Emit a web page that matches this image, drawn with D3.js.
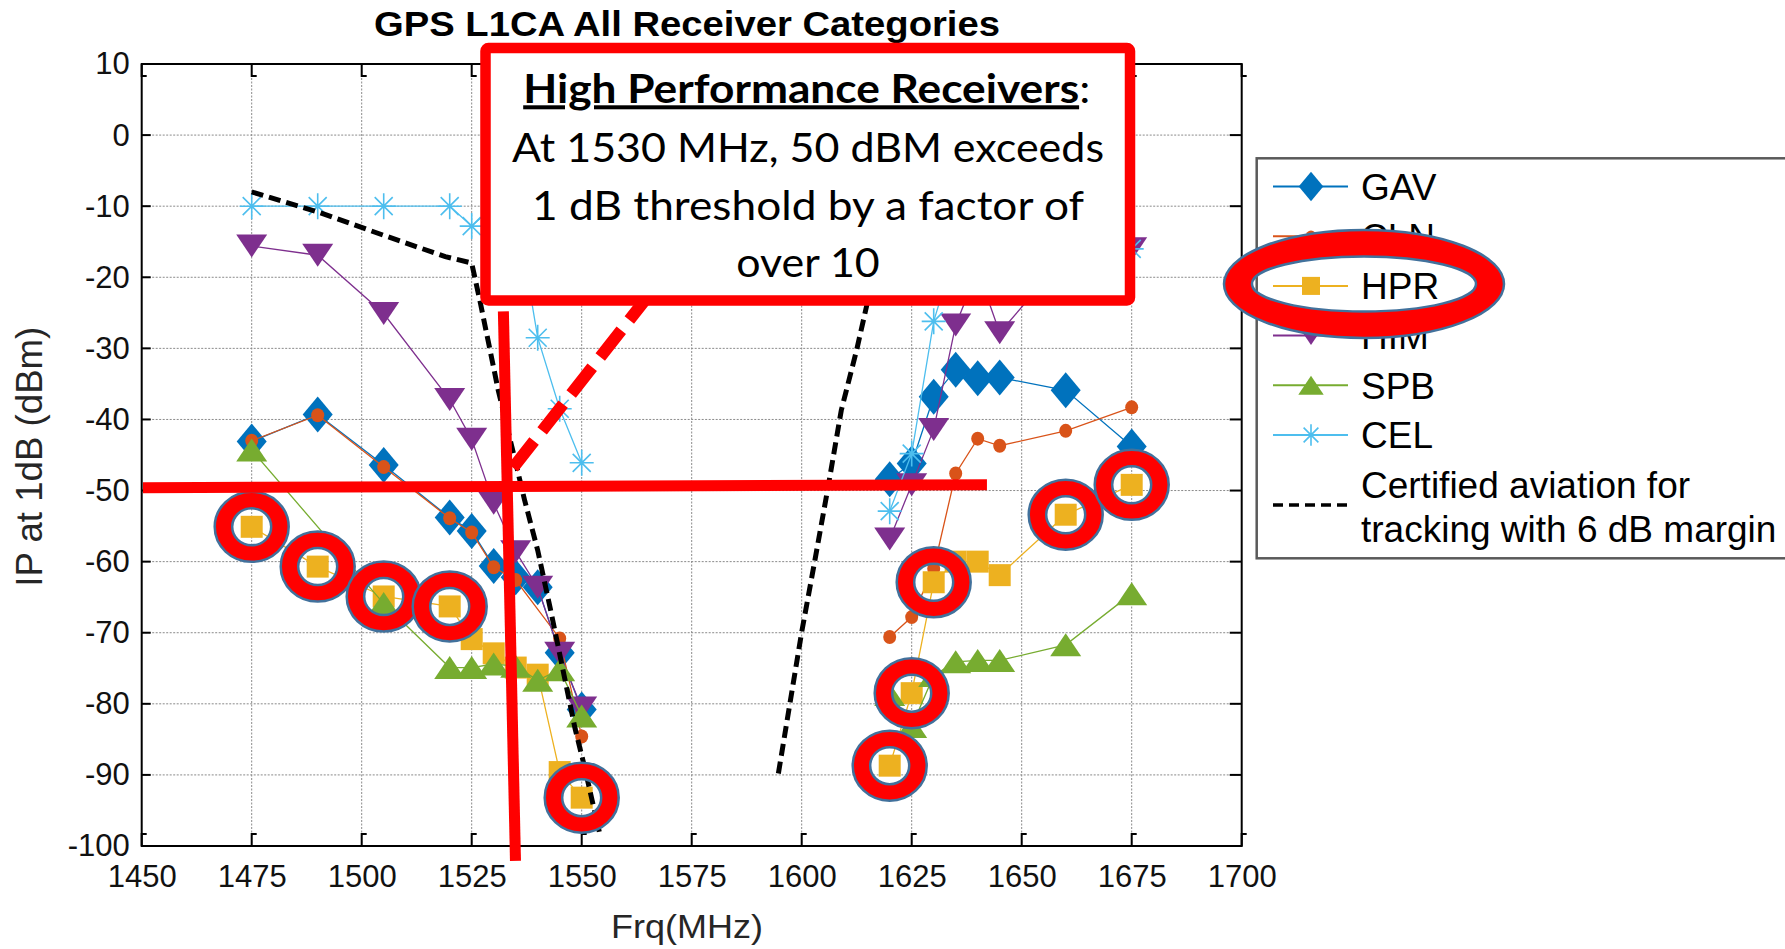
<!DOCTYPE html>
<html><head><meta charset="utf-8">
<script src="https://cdn.jsdelivr.net/npm/d3@7"></script>
<style>html,body{margin:0;padding:0;background:#fff;overflow:hidden}</style>
</head><body>
<svg id="chart" width="1785" height="949" xmlns="http://www.w3.org/2000/svg"></svg>
<script>
// ---------------- data ----------------
const chartTitle = "GPS L1CA All Receiver Categories";
const xLabel = "Frq(MHz)";
const yLabel = "IP at 1dB (dBm)";
const xTicks = [1450,1475,1500,1525,1550,1575,1600,1625,1650,1675,1700];
const yTicks = [10,0,-10,-20,-30,-40,-50,-60,-70,-80,-90,-100];

const seriesNames  = ["GAV","CLN","HPR","HIM","SPB","CEL"];
const seriesColors = ["#0072BD","#D95319","#EDB120","#7E2F8E","#77AC30","#4DBEEE"];
const seriesSymbols = ["diamond","dot","square","triDown","triUp","asterisk"];

// null = gap between the two measured bands
const gavFreq = [1475,1490,1505,1520,1525,1530,1535,1540,1545,1550,null,1620,1625,1630,1635,1640,1645,1660,1675];
const gavIP   = [-43.1,-39.3,-46.4,-53.8,-55.7,-60.6,-62.2,-63.6,-72.8,-80.8,null,-48.4,-46.2,-36.8,-33.0,-34.2,-34.1,-35.9,-43.8];

const clnFreq = [1475,1490,1505,1520,1525,1530,1535,1545,1550,null,1620,1625,1630,1635,1640,1645,1660,1675];
const clnIP   = [-43.0,-39.4,-46.7,-53.9,-55.9,-60.8,-62.6,-70.8,-84.6,null,-70.6,-67.8,-61.0,-47.6,-42.7,-43.7,-41.6,-38.3];

const hprFreq = [1475,1490,1505,1520,1525,1530,1535,1540,1545,1550,null,1620,1625,1630,1635,1640,1645,1660,1675];
const hprIP   = [-55.1,-60.7,-64.9,-66.3,-70.9,-72.9,-74.9,-75.9,-89.6,-93.2,null,-88.7,-78.5,-62.9,-60.0,-60.0,-61.9,-53.4,-49.2];

const himFreq = [1475,1490,1505,1520,1525,1530,1535,1540,1545,1550,null,1620,1625,1630,1635,1640,1645,1660,1675];
const himIP   = [-15.6,-16.9,-25.1,-37.2,-42.8,-51.8,-58.6,-63.6,-72.9,-80.6,null,-56.8,-49.2,-41.4,-26.7,-19.0,-27.8,-17.0,-16.0];

const spbFreq = [1475,1505,1520,1525,1530,1535,1540,1545,1550,null,1620,1625,1630,1635,1640,1645,1660,1675];
const spbIP   = [-44.3,-65.9,-74.9,-74.9,-74.4,-74.7,-76.7,-75.2,-81.7,null,-78.7,-83.2,-76.0,-74.1,-73.9,-73.9,-71.7,-64.5];

const celFreq = [1475,1490,1505,1520,1525,1530,1535,1540,1545,1550,null,1620,1625,1630,1635,1640,1645,1660,1675];
const celIP   = [-10,-10,-10,-10,-12.8,-10,-10,-28.5,-38.5,-46.1,null,-52.9,-44.8,-26.2,-16,-16,-16,-16,-16];

const certName = ["Certified aviation for","tracking with 6 dB margin"];
const certFreq = [1475,1490,1505,1519,1525,1527,1531,1534.5,1537,1540,1543,1546,1548.5,1550.5,1554,null,1594.7,1600,1603,1606,1609,1612.5,1615.5];
const certIP   = [-8,-10.8,-14.1,-17.1,-18,-23.7,-35.8,-44.8,-51.3,-58.4,-67,-76,-83.5,-88.5,-98,null,-89.8,-69.9,-59.8,-49.5,-38.7,-30.2,-22];

// annotation (data units)
const circledHprFreq = [1475,1490,1505,1520,1550,1620,1625,1630,1660,1675];
const hLineFreq = [1450.3,1642.1]; const hLineIP = [-49.6,-49.2];
const vLineFreq = [1532.2,1534.95]; const vLineIP = [-24.8,-102.1];
const dLineFreq = [1534.4,1564.4]; const dLineIP = [-46.8,-23.2];
const boxLines = ["High Performance Receivers", "At 1530 MHz, 50 dBM exceeds", "1 dB threshold by a factor of", "over 10"];

const seriesFreq = [gavFreq,clnFreq,hprFreq,himFreq,spbFreq,celFreq];
const seriesIP   = [gavIP,clnIP,hprIP,himIP,spbIP,celIP];

// ---------------- layout ----------------
const svg = d3.select("#chart");
const L = 141.7, R = 1241.7, T = 64, B = 846;
const x = d3.scaleLinear().domain([1450,1700]).range([L,R]);
const y = d3.scaleLinear().domain([-100,10]).range([B,T]);
const AR = "'Liberation Sans', Arial, sans-serif";

svg.append("rect").attr("width",1785).attr("height",949).attr("fill","#fff");

// grid
const grid = svg.append("g").attr("stroke","#8a8a8a").attr("stroke-width",1).attr("stroke-dasharray","2,1.5");
xTicks.filter(t=>t>1450&&t<1700).forEach(t=>grid.append("line").attr("x1",x(t)).attr("x2",x(t)).attr("y1",T).attr("y2",B));
yTicks.filter(t=>t<10&&t>-100).forEach(t=>grid.append("line").attr("y1",y(t)).attr("y2",y(t)).attr("x1",L).attr("x2",R));

// symbols
function symbolPath(type, s){
  switch(type){
    case "diamond": return `M0,${-18*s}L${15*s},0L0,${18*s}L${-15*s},0Z`;
    case "square": return `M${-11*s},${-11*s}h${22*s}v${22*s}h${-22*s}Z`;
    case "triDown": return `M${-15.5*s},${-11.5*s}L${15.5*s},${-11.5*s}L0,${11.5*s}Z`;
    case "triUp": return `M${-15.5*s},${11.5*s}L${15.5*s},${11.5*s}L0,${-11.5*s}Z`;
    case "asterisk": return `M${-12*s},0H${12*s}M0,${-13*s}V${13*s}M${-9*s},${-9*s}L${9*s},${9*s}M${-9*s},${9*s}L${9*s},${-9*s}`;
  }
  return "";
}
function drawMarker(g, type, color, cx, cy, s){
  if(type==="dot"){
    g.append("ellipse").attr("cx",cx).attr("cy",cy).attr("rx",6.5*s).attr("ry",7*s).attr("fill",color);
  } else if(type==="asterisk"){
    g.append("path").attr("transform",`translate(${cx},${cy})`).attr("d",symbolPath(type,s))
      .attr("fill","none").attr("stroke",color).attr("stroke-width",1.6);
  } else {
    g.append("path").attr("transform",`translate(${cx},${cy})`).attr("d",symbolPath(type,s)).attr("fill",color);
  }
}

const line = d3.line().defined(d=>d[0]!==null).x(d=>x(d[0])).y(d=>y(d[1]));
const plot = svg.append("g");
seriesNames.forEach((name,i)=>{
  const pts = seriesFreq[i].map((f,j)=>[f, seriesIP[i][j]]);
  const g = plot.append("g");
  g.append("path").attr("d",line(pts)).attr("fill","none").attr("stroke",seriesColors[i]).attr("stroke-width",1.3);
  pts.filter(p=>p[0]!==null).forEach(p=>drawMarker(g, seriesSymbols[i], seriesColors[i], x(p[0]), y(p[1]), 1));
});
const certPts = certFreq.map((f,j)=>[f, certIP[j]]);
plot.append("path").attr("d",line(certPts)).attr("fill","none").attr("stroke","#000")
  .attr("stroke-width",5).attr("stroke-dasharray","12,6");

// axes frame + inner ticks
const ax = svg.append("g");
ax.append("rect").attr("x",L).attr("y",T).attr("width",R-L).attr("height",B-T)
  .attr("fill","none").attr("stroke","#000").attr("stroke-width",2);
const tk = ax.append("g").attr("stroke","#000").attr("stroke-width",2).attr("fill","none");
xTicks.forEach(t=>{
  tk.append("path").attr("d",`M${x(t)},${B}V${B-12}h5`);
  tk.append("path").attr("d",`M${x(t)},${T}V${T+12}h5`);
});
yTicks.forEach(t=>{
  tk.append("path").attr("d",`M${L},${y(t)}H${L+9}`);
  tk.append("path").attr("d",`M${R},${y(t)}H${R-12}`);
});
const fmt = d => String(d);
const xAxis = d3.axisBottom(x).tickValues(xTicks).tickSize(0).tickPadding(19).tickFormat(fmt);
const gx = svg.append("g").attr("transform",`translate(0,${B})`).call(xAxis);
gx.select(".domain").remove();
gx.selectAll("text").attr("font-family",AR).attr("font-size",31).attr("fill","#111");
const yAxis = d3.axisLeft(y).tickValues(yTicks).tickSize(0).tickPadding(12).tickFormat(fmt);
const gy = svg.append("g").attr("transform",`translate(${L},0)`).call(yAxis);
gy.select(".domain").remove();
gy.selectAll("text").attr("font-family",AR).attr("font-size",31).attr("fill","#111");

// labels
svg.append("text").attr("x",687).attr("y",36).attr("text-anchor","middle").attr("font-family",AR)
  .attr("font-weight","bold").attr("font-size",35).attr("textLength",626).attr("lengthAdjust","spacingAndGlyphs").text(chartTitle);
svg.append("text").attr("x",687).attr("y",938).attr("text-anchor","middle").attr("font-family",AR)
  .attr("font-size",34).attr("fill","#262626").attr("textLength",152).attr("lengthAdjust","spacingAndGlyphs").text(xLabel);
svg.append("text").attr("transform","translate(42,456.7) rotate(-90)").attr("text-anchor","middle").attr("font-family",AR)
  .attr("font-size",36).attr("fill","#262626").attr("textLength",260).attr("lengthAdjust","spacingAndGlyphs").text(yLabel);

// ---------------- annotations ----------------
function ellipsePath(cx,cy,rx,ry){
  return `M${cx-rx},${cy}a${rx},${ry} 0 1,0 ${2*rx},0a${rx},${ry} 0 1,0 ${-2*rx},0Z`;
}
function ringPath(cx,cy,rx,ry,irx,iry){ return ellipsePath(cx,cy,rx,ry)+ellipsePath(cx,cy,irx,iry); }
const ann = svg.append("g");
circledHprFreq.forEach(f=>{
  const j = hprFreq.indexOf(f);
  ann.append("path").attr("d",ringPath(x(f),y(hprIP[j]),37,35,19.5,18.5)).attr("fill","#FF0000")
    .attr("fill-rule","evenodd").attr("stroke","#41719C").attr("stroke-width",2.5);
});
ann.append("line").attr("x1",x(hLineFreq[0])).attr("y1",y(hLineIP[0])).attr("x2",x(hLineFreq[1])).attr("y2",y(hLineIP[1]))
  .attr("stroke","#FF0000").attr("stroke-width",11);
ann.append("line").attr("x1",x(vLineFreq[0])).attr("y1",y(vLineIP[0])).attr("x2",x(vLineFreq[1])).attr("y2",y(vLineIP[1]))
  .attr("stroke","#FF0000").attr("stroke-width",11);
ann.append("line").attr("x1",x(dLineFreq[0])).attr("y1",y(dLineIP[0])).attr("x2",x(dLineFreq[1])).attr("y2",y(dLineIP[1]))
  .attr("stroke","#FF0000").attr("stroke-width",12).attr("stroke-dasharray","34,13");

// callout box
const bx = svg.append("g");
bx.append("rect").attr("x",485.5).attr("y",48).attr("width",644.5).attr("height",252.5).attr("rx",3)
  .attr("fill","#fff").attr("stroke","#FF0000").attr("stroke-width",10.5);
const LATO = "Lato, 'Open Sans', sans-serif";
const t1 = bx.append("text").attr("x",806.7).attr("y",103.3).attr("text-anchor","middle").attr("font-family",LATO)
  .attr("font-size",40).attr("textLength",567).attr("lengthAdjust","spacingAndGlyphs");
t1.append("tspan").attr("font-weight","bold").attr("text-decoration","underline").text(boxLines[0]);
t1.append("tspan").text(":");
const bxY = [161.7,220,276.7], bxW = [592,552,143.5];
[1,2,3].forEach((k,i)=>{
  bx.append("text").attr("x",808).attr("y",bxY[i]).attr("text-anchor","middle").attr("font-family",LATO)
    .attr("font-size",40).attr("textLength",bxW[i]).attr("lengthAdjust","spacingAndGlyphs").text(boxLines[k]);
});

// ---------------- legend ----------------
const lg = svg.append("g");
lg.append("rect").attr("x",1256.7).attr("y",158.3).attr("width",600).attr("height",400)
  .attr("fill","#fff").attr("stroke","#5a5a5a").attr("stroke-width",2.5);
const rowY = seriesNames.map((n,i)=>186.5+i*49.7);
seriesNames.forEach((name,i)=>{
  lg.append("line").attr("x1",1273).attr("x2",1348).attr("y1",rowY[i]).attr("y2",rowY[i])
    .attr("stroke",seriesColors[i]).attr("stroke-width",2);
  drawMarker(lg, seriesSymbols[i], seriesColors[i], 1311, rowY[i], 0.82);
  lg.append("text").attr("x",1361).attr("y",rowY[i]+13.3).attr("font-family",AR).attr("font-size",37)
    .attr("fill","#000").text(name);
});
lg.append("line").attr("x1",1273).attr("x2",1348).attr("y1",505).attr("y2",505)
  .attr("stroke","#000").attr("stroke-width",3.5).attr("stroke-dasharray","10,6");
lg.append("text").attr("x",1361).attr("y",498.3).attr("font-family",AR).attr("font-size",37).text(certName[0]);
lg.append("text").attr("x",1361).attr("y",541.7).attr("font-family",AR).attr("font-size",37).text(certName[1]);
// ellipse around HPR legend entry
lg.append("path").attr("d",ringPath(1364,rowY[2]-2,140,54,112,27.5)).attr("fill","#FF0000")
  .attr("fill-rule","evenodd").attr("stroke","#41719C").attr("stroke-width",2.5);
</script>
</body></html>
